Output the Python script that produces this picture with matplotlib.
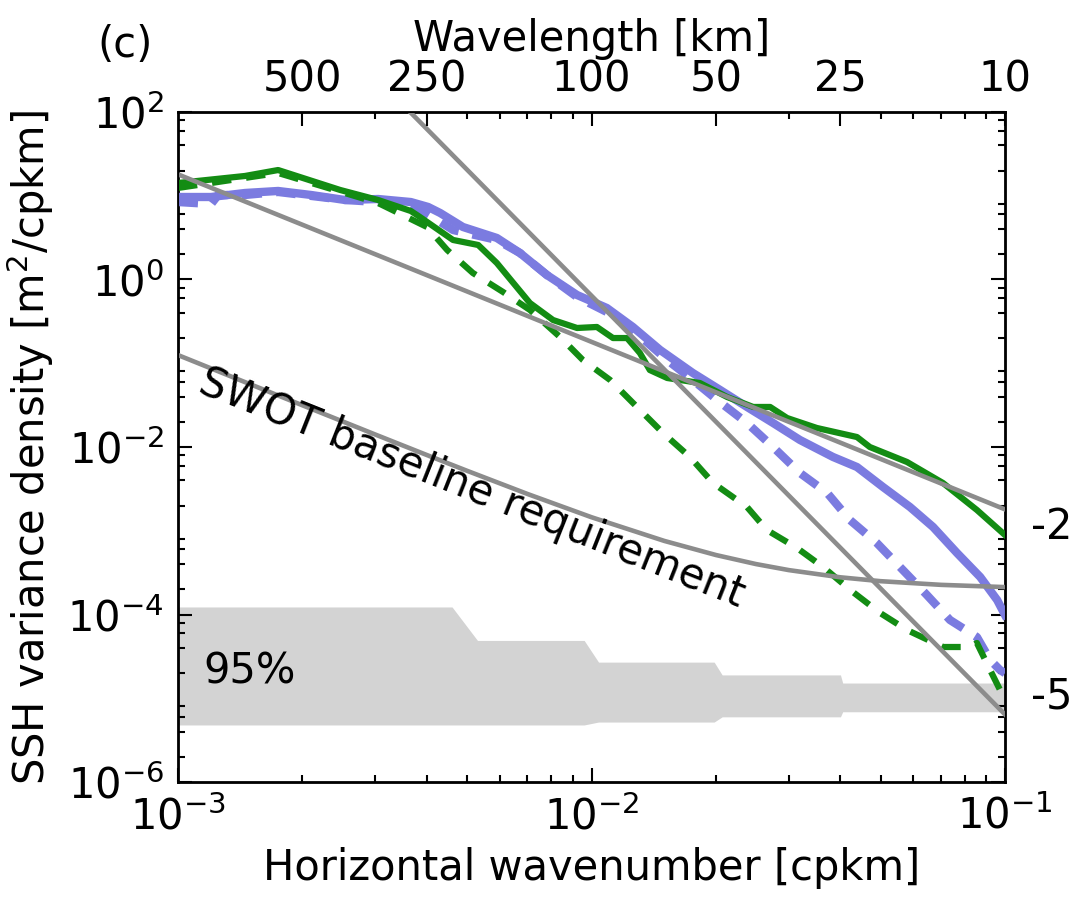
import numpy as np
import matplotlib
matplotlib.use("Agg")
import matplotlib.pyplot as plt
from matplotlib.ticker import FixedLocator, NullFormatter, LogLocator

# ---------------- data (log10 of wavenumber [cpkm] and spectral density [m^2/cpkm]) ----------------
lk_green_solid = [-3.000, -2.838, -2.758, -2.608, -2.516, -2.437, -2.415, -2.335, -2.274, -2.229,
                  -2.149, -2.093, -2.035, -1.987, -1.948, -1.914, -1.883, -1.859, -1.817, -1.738,
                  -1.672, -1.609, -1.568, -1.527, -1.455, -1.358, -1.327, -1.237, -1.150, -1.068, -1.000]
le_green_solid = [1.152, 1.236, 1.307, 1.069, 0.949, 0.818, 0.746, 0.472, 0.412, 0.197,
                  -0.281, -0.484, -0.579, -0.567, -0.699, -0.699, -0.878, -1.081, -1.176, -1.236,
                  -1.403, -1.522, -1.522, -1.654, -1.773, -1.881, -2.000, -2.179, -2.430, -2.752, -3.051]

lk_green_dash = [-3.000, -2.758, -2.516, -2.398, -2.349, -2.287, -2.214, -2.149, -2.076, -2.021,
                 -1.955, -1.890, -1.827, -1.762, -1.706, -1.624, -1.576, -1.503, -1.440, -1.368,
                 -1.302, -1.237, -1.150, -1.085, -1.068, -1.036, -1.012, -1.000]
le_green_dash = [1.093, 1.272, 0.913, 0.627, 0.352, 0.078, -0.149, -0.364, -0.687, -0.961,
                 -1.200, -1.522, -1.833, -2.119, -2.430, -2.716, -2.991, -3.206, -3.433, -3.731,
                 -3.982, -4.185, -4.388, -4.388, -4.340, -4.663, -4.901, -4.980]

lk_blue_solid = [-3.000, -2.920, -2.838, -2.758, -2.678, -2.596, -2.516, -2.437, -2.395, -2.366,
                 -2.311, -2.229, -2.173, -2.108, -2.035, -1.963, -1.900, -1.834, -1.755, -1.689,
                 -1.624, -1.561, -1.496, -1.416, -1.358, -1.295, -1.230, -1.174, -1.116, -1.060,
                 -1.019, -1.000]
le_blue_solid = [0.985, 0.985, 1.033, 1.057, 1.009, 0.949, 0.961, 0.925, 0.866, 0.794,
                 0.627, 0.496, 0.316, 0.054, -0.185, -0.340, -0.567, -0.842, -1.116, -1.319,
                 -1.522, -1.713, -1.916, -2.119, -2.239, -2.478, -2.716, -2.955, -3.266, -3.552,
                 -3.827, -4.006]

lk_blue_dash = [-3.000, -2.920, -2.903, -2.838, -2.758, -2.596, -2.437, -2.366, -2.335, -2.229,
                -2.173, -2.108, -2.035, -1.963, -1.900, -1.817, -1.755, -1.696, -1.624, -1.561,
                -1.496, -1.430, -1.375, -1.310, -1.254, -1.189, -1.133, -1.068, -1.036, -1.012, -1.000]
le_blue_dash = [0.925, 0.901, 1.009, 1.009, 1.045, 0.949, 0.901, 0.687, 0.591, 0.472,
                0.316, 0.054, -0.209, -0.388, -0.603, -0.961, -1.200, -1.439, -1.713, -2.000,
                -2.310, -2.549, -2.872, -3.146, -3.433, -3.767, -4.066, -4.269, -4.543, -4.663, -4.700]

# reference slope lines (end points)
k_slope2 = [1e-3, 1e-1]
E_slope2 = [18.0, 1.8e-3]
k_slope5 = [1e-3, 1e-1]
E_slope5 = [6.4e4, 6.4e-6]

# SWOT baseline requirement curve
k_swot = [1e-3, 1.5e-3, 2e-3, 3e-3, 4e-3, 5e-3, 7e-3, 1e-2, 1.5e-2, 2e-2, 2.5e-2, 3e-2, 4e-2, 5e-2, 7e-2, 1e-1]
E_swot = [0.1252, 0.0558, 0.03145, 0.01409, 0.00801, 0.0052, 0.00275, 0.00145, 7.56e-4, 5.13e-4,
          4.0e-4, 3.39e-4, 2.78e-4, 2.5e-4, 2.26e-4, 2.125e-4]

# 95% confidence band
k_band = [1e-3, 4.6e-3, 5.3e-3, 9.6e-3, 1.04e-2, 1.98e-2, 2.07e-2, 4.0e-2, 4.05e-2, 1e-1]
band_upper = [1.23e-4, 1.23e-4, 4.9e-5, 4.9e-5, 2.7e-5, 2.7e-5, 1.9e-5, 1.9e-5, 1.52e-5, 1.52e-5]
band_lower = [4.8e-6, 4.8e-6, 4.8e-6, 4.8e-6, 5.2e-6, 5.2e-6, 6.0e-6, 6.0e-6, 6.9e-6, 6.9e-6]

# tick labels
wavelength_ticks = [500, 250, 100, 50, 25, 10]
y_major = [1e-6, 1e-4, 1e-2, 1e0, 1e2]
y_labels = ['$10^{-6}$', '$10^{-4}$', '$10^{-2}$', '$10^{0}$', '$10^{2}$']
x_major = [1e-3, 1e-2, 1e-1]
x_labels = ['$10^{-3}$', '$10^{-2}$', '$10^{-1}$']

# ---------------- plotting ----------------
FS = 30
plt.rcParams['font.family'] = ['DejaVu Sans']
plt.rcParams['mathtext.fontset'] = 'dejavusans'

blue = '#7b7be0'
green = '#138c13'
gray = '0.55'

fig = plt.figure(figsize=(10.75, 9.09), dpi=100)
ax = fig.add_axes([0.1656, 0.1397, 0.7693, 0.7371])
ax.set_xscale('log')
ax.set_yscale('log')

ax.fill_between(k_band, band_lower, band_upper, color='#d3d3d3', lw=0, zorder=1)

ax.plot(10 ** np.array(lk_blue_solid), 10 ** np.array(le_blue_solid), color=blue, lw=6, zorder=3)
ax.plot(10 ** np.array(lk_blue_dash), 10 ** np.array(le_blue_dash), color=blue, lw=6,
        linestyle=(0, (2.4, 1.7)), zorder=3)
ax.plot(10 ** np.array(lk_green_solid), 10 ** np.array(le_green_solid), color=green, lw=4.5, zorder=4)
ax.plot(10 ** np.array(lk_green_dash), 10 ** np.array(le_green_dash), color=green, lw=4.5,
        linestyle=(0, (3.1, 2.4)), zorder=4)

ax.plot(k_slope2, E_slope2, color=gray, lw=3.3, zorder=5)
ax.plot(k_slope5, E_slope5, color=gray, lw=3.3, zorder=5)
ax.plot(k_swot, E_swot, color=gray, lw=3.3, zorder=5)

ax.set_xlim(1e-3, 1e-1)
ax.set_ylim(1e-6, 1e2)

ax.xaxis.set_major_locator(FixedLocator(x_major))
ax.set_xticklabels(x_labels)
ax.xaxis.set_minor_locator(LogLocator(base=10, subs=np.arange(2, 10)))
ax.xaxis.set_minor_formatter(NullFormatter())

ax.yaxis.set_major_locator(FixedLocator(y_major))
ax.set_yticklabels(y_labels)
y_minor = [m * 10.0 ** n for n in range(-6, 2) for m in (2, 4, 6, 8)]
ax.yaxis.set_minor_locator(FixedLocator(y_minor))
ax.yaxis.set_minor_formatter(NullFormatter())

ax.tick_params(which='both', direction='in', right=True, top=False, labelsize=FS, width=1.5)
ax.tick_params(which='major', length=10, pad=10)
ax.tick_params(which='minor', length=5)
for s in ax.spines.values():
    s.set_linewidth(2)

ax.set_xlabel('Horizontal wavenumber [cpkm]', fontsize=FS, labelpad=6)
ax.set_ylabel('SSH variance density [m$^2$/cpkm]', fontsize=FS, labelpad=8)

ax2 = ax.twiny()
ax2.set_xscale('log')
ax2.set_xlim(1e-3, 1e-1)
top_pos = [1.0 / w for w in wavelength_ticks]
ax2.xaxis.set_major_locator(FixedLocator(top_pos))
ax2.set_xticklabels([str(w) for w in wavelength_ticks])
top_minor = [m * 10.0 ** n for n in (-3, -2) for m in range(2, 10)]
top_minor = [t for t in top_minor if all(abs(t - p) / p > 0.01 for p in top_pos)]
ax2.xaxis.set_minor_locator(FixedLocator(top_minor))
ax2.xaxis.set_minor_formatter(NullFormatter())
ax2.tick_params(which='both', direction='in', labelsize=FS, width=1.5)
ax2.tick_params(which='major', length=10, pad=8)
ax2.tick_params(which='minor', length=5)
ax2.set_xlabel('Wavelength [km]', fontsize=FS, labelpad=6)

ax.text(1.49e-3, 2.06e-5, '95%', fontsize=FS, ha='center', va='center', zorder=6)
ax.text(5.14e-3, 3.24e-3, 'SWOT baseline requirement', fontsize=FS, ha='center', va='center',
        rotation=-21.7, rotation_mode='anchor', zorder=6)
ax.text(1.032, 0.3806, '-2', transform=ax.transAxes, fontsize=FS, ha='left', va='center')
ax.text(1.032, 0.1269, '-5', transform=ax.transAxes, fontsize=FS, ha='left', va='center')
fig.text(0.116, 0.95, '(c)', fontsize=FS, ha='center', va='center')

fig.savefig('out.png', dpi=100)
